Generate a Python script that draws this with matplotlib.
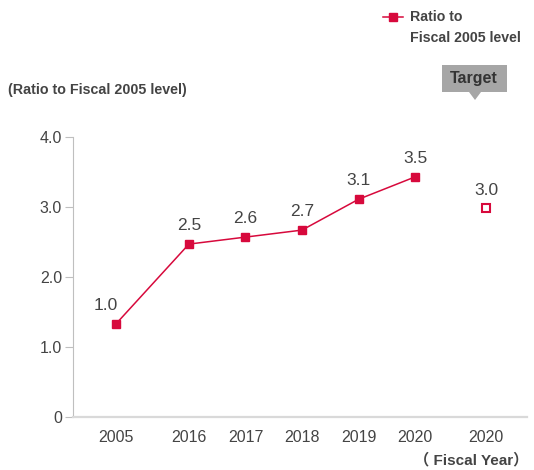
import matplotlib.pyplot as plt
from matplotlib.lines import Line2D
from matplotlib.patches import Polygon

# data
years = ['2005', '2016', '2017', '2018', '2019', '2020']
ratio = [1.33, 2.47, 2.57, 2.67, 3.11, 3.43]
ratio_labels = ['1.0', '2.5', '2.6', '2.7', '3.1', '3.5']
target_year = '2020'
target = 2.99
target_label = '3.0'

# category positions (gap before 2016 and before the target)
x_pos = [0, 1.29, 2.29, 3.29, 4.29, 5.29]
x_target = 6.55

red = '#d7093c'
txt = '#444444'

plt.rcParams['font.family'] = ['Liberation Sans', 'Noto Sans CJK JP', 'DejaVu Sans']

fig = plt.figure(figsize=(5.34, 4.70), dpi=100)
ax = fig.add_axes([73 / 534, 53 / 470, 454 / 534, 280 / 470])

ax.plot(x_pos, ratio, color=red, lw=1.1, marker='s', ms=6, mec=red, mfc=red)
ax.plot([x_target], [target], ls='none', marker='s', ms=5.5, mfc='white', mec=red, mew=1.5)

for i, (x, v, s) in enumerate(zip(x_pos, ratio, ratio_labels)):
    dx = -7 if i == 0 else 0
    ax.annotate(s, (x, v), xytext=(dx, 8), textcoords='offset points',
                ha='center', va='bottom', fontsize=12.5, color=txt)
ax.annotate(target_label, (x_target, target), xytext=(0, 7), textcoords='offset points',
            ha='center', va='bottom', fontsize=12.5, color=txt)

ax.set_xlim(-0.76, 7.27)
ax.set_ylim(0, 4.0)
ax.set_yticks([0, 1, 2, 3, 4])
ax.set_yticklabels(['0', '1.0', '2.0', '3.0', '4.0'])
ax.set_xticks(x_pos + [x_target])
ax.set_xticklabels(years + [target_year])

ax.tick_params(axis='y', length=6, width=0.8, color='#bfbfbf', pad=2, labelsize=11.5, labelcolor=txt)
ax.tick_params(axis='x', length=0, pad=9, labelsize=11.5, labelcolor=txt)

for side in ['top', 'right']:
    ax.spines[side].set_visible(False)
ax.spines['left'].set_color('#bfbfbf')
ax.spines['left'].set_linewidth(0.8)
ax.spines['bottom'].set_color('#d9d9d9')
ax.spines['bottom'].set_linewidth(1.6)

# titles
fig.text(8 / 534, 1 - 90 / 470, '(Ratio to Fiscal 2005 level)', fontsize=10.3,
         fontweight='bold', color=txt, va='center', ha='left')
fig.text(528 / 534, 1 - 460 / 470, '\uff08 Fiscal Year\uff09', fontsize=11,
         fontweight='bold', color=txt, va='center', ha='right')

# legend
ly = 1 - 17 / 470
fig.add_artist(Line2D([383 / 534, 403 / 534], [ly, ly], color=red, lw=1.1,
                      transform=fig.transFigure))
fig.add_artist(Line2D([393 / 534], [ly], ls='none', marker='s', ms=6,
                      mfc=red, mec=red, transform=fig.transFigure))
fig.text(410 / 534, ly, 'Ratio to', fontsize=10.2, fontweight='bold', color=txt,
         va='center', ha='left')
fig.text(410 / 534, 1 - 38 / 470, 'Fiscal 2005 level', fontsize=10.2, fontweight='bold', color=txt,
         va='center', ha='left')

# "Target" callout
pts = [(442, 65), (507, 65), (507, 92), (481, 92), (475, 100), (469, 92), (442, 92)]
box = Polygon([(px / 534, 1 - py / 470) for px, py in pts], closed=True,
              fc='#a6a6a6', ec='none', transform=fig.transFigure)
fig.add_artist(box)
fig.text(474 / 534, 1 - 79 / 470, 'Target', fontsize=11.5, fontweight='bold', color='#333333',
         va='center', ha='center')

fig.savefig('out.png', dpi=100)
